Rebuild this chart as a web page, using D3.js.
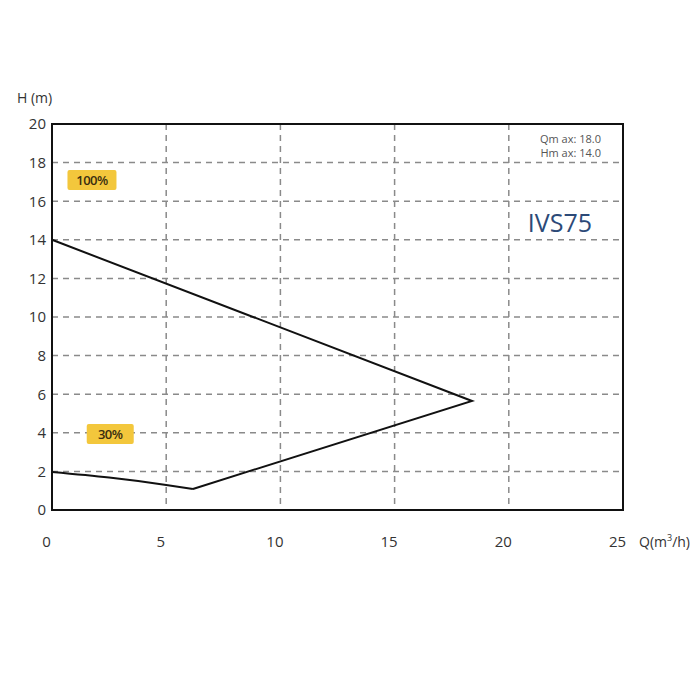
<!DOCTYPE html>
<html><head><meta charset="utf-8">
<script src="https://cdn.jsdelivr.net/npm/d3@7"></script>
<style>body{margin:0;background:#fff}</style>
</head><body>
<svg id="c" width="700" height="700"></svg>
<script>
const xTicks = [0, 5, 10, 15, 20, 25];
const yTicks = [0, 2, 4, 6, 8, 10, 12, 14, 16, 18, 20];
const curveQ = [0, 2.5, 5, 6.17, 18.39, 0];
const curveH = [1.97, 1.68, 1.3, 1.09, 5.65, 14.0];
const badgeLabels = ["100%", "30%"];
const badgeQ = [1.75, 2.55];
const badgeH = [17.1, 3.94];
const infoLines = ["Qm ax: 18.0", "Hm ax: 14.0"];
const modelName = "IVS75";

const svg = d3.select("#c");
const L = 52, R = 623, T = 124, B = 510;
const x = d3.scaleLinear().domain([0, 25]).range([L, R]);
const y = d3.scaleLinear().domain([0, 20]).range([B, T]);
const font = "'Open Sans', 'Noto Sans', sans-serif";

// grid
svg.append("g").selectAll("line").data(xTicks.filter(d => d > 0 && d < 25)).join("line")
  .attr("x1", d => x(d)).attr("x2", d => x(d)).attr("y1", T).attr("y2", B)
  .attr("stroke", "#8a8a8a").attr("stroke-width", 1.5).attr("stroke-dasharray", "6,5");
svg.append("g").selectAll("line").data(yTicks.filter(d => d > 0 && d < 20)).join("line")
  .attr("y1", d => y(d)).attr("y2", d => y(d)).attr("x1", L).attr("x2", R)
  .attr("stroke", "#8a8a8a").attr("stroke-width", 1.5).attr("stroke-dasharray", "6,5");

// frame
svg.append("rect").attr("x", L).attr("y", T).attr("width", R - L).attr("height", B - T)
  .attr("fill", "none").attr("stroke", "#111").attr("stroke-width", 2);

// axes labels
const xa = d3.axisBottom(x).tickValues(xTicks).tickSize(0).tickPadding(0);
const gx = svg.append("g").attr("transform", `translate(-6,${B + 26})`).call(xa);
gx.select(".domain").remove();
gx.selectAll("text").attr("font-family", font).attr("font-size", 15).attr("fill", "#333");

const ya = d3.axisLeft(y).tickValues(yTicks).tickSize(0).tickPadding(0);
const gy = svg.append("g").attr("transform", `translate(${L - 6},0)`).call(ya);
gy.select(".domain").remove();
gy.selectAll("text").attr("font-family", font).attr("font-size", 15).attr("fill", "#333");

svg.append("text").attr("x", 17).attr("y", 103).attr("font-family", font).attr("font-size", 14)
  .attr("fill", "#333").text("H (m)");
const qt = svg.append("text").attr("x", 639).attr("y", 547).attr("font-family", font).attr("font-size", 14).attr("fill", "#333");
qt.append("tspan").text("Q(m");
qt.append("tspan").attr("font-size", 9).attr("dy", -6).text("3");
qt.append("tspan").attr("dy", 6).text("/h)");

// curve
const pts = curveQ.map((q, i) => [q, curveH[i]]);
const line = d3.line().x(d => x(d[0])).y(d => y(d[1]));
svg.append("path").datum(pts.slice(0, 4)).attr("d", d3.line().x(d => x(d[0])).y(d => y(d[1])).curve(d3.curveMonotoneX))
  .attr("fill", "none").attr("stroke", "#111").attr("stroke-width", 2);
svg.append("path").datum(pts.slice(3)).attr("d", line)
  .attr("fill", "none").attr("stroke", "#111").attr("stroke-width", 2).attr("stroke-linejoin", "miter");

// badges
badgeLabels.forEach((t, i) => {
  const cx = x(badgeQ[i]), cy = y(badgeH[i]);
  const w = t.length === 4 ? 49 : 47, h = 20;
  svg.append("rect").attr("x", cx - w / 2).attr("y", cy - h / 2).attr("width", w).attr("height", h)
    .attr("rx", 2).attr("fill", "#f3c73c");
  svg.append("text").attr("x", cx).attr("y", cy + 5).attr("text-anchor", "middle")
    .attr("font-family", font).attr("font-size", 13).attr("font-weight", 600).attr("fill", "#3a2e10").attr("letter-spacing", -0.5).text(t);
});

// info
infoLines.forEach((t, i) => {
  svg.append("text").attr("x", 601).attr("y", 143 + i * 14).attr("text-anchor", "end")
    .attr("font-family", font).attr("font-size", 11).attr("fill", "#555").text(t);
});
svg.append("text").attr("x", 592).attr("y", 232).attr("text-anchor", "end")
  .attr("font-family", font).attr("font-size", 25).attr("fill", "#2c4a78").text(modelName);
</script>
</body></html>
